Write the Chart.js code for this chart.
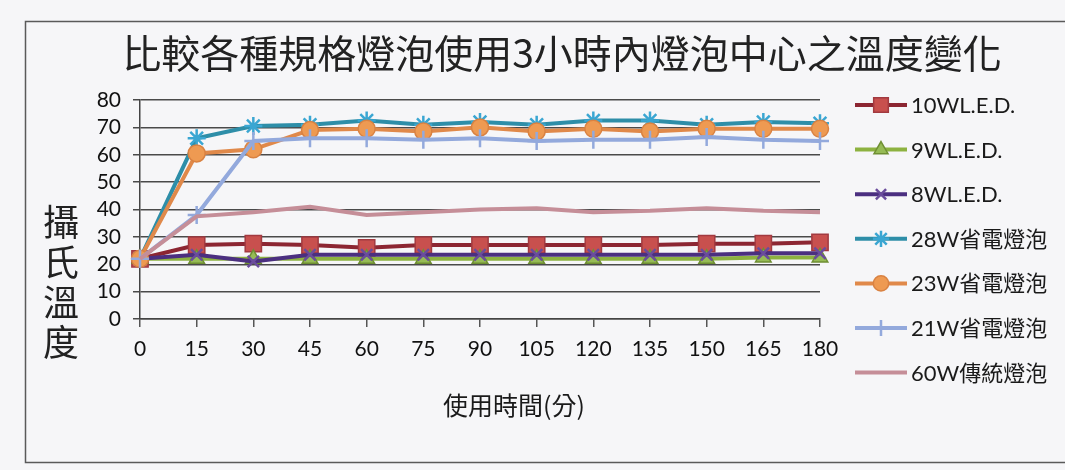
<!DOCTYPE html>
<html>
<head>
<meta charset="utf-8">
<script src="https://cdn.jsdelivr.net/npm/chart.js@4.4.1/dist/chart.umd.min.js"></script>
<style>
  html, body { margin: 0; padding: 0; background: #f6f6f8; }
  canvas { display: block; }
</style>
</head>
<body>
<canvas id="c" width="1065" height="470"></canvas>
<script>
// Time since switch-on (minutes)
const minutes = ['0', '15', '30', '45', '60', '75', '90', '105', '120', '135', '150', '165', '180'];

// Bulb-centre temperature (°C) per bulb type
const led10W  = [22, 27, 27.5, 27, 26, 27, 27, 27, 27, 27, 27.5, 27.5, 28];
const led9W   = [22, 22, 22, 22, 22, 22, 22, 22, 22, 22, 22, 22.5, 22.5];
const led8W   = [22, 23.5, 21, 23.5, 23.5, 23.5, 23.5, 23.5, 23.5, 23.5, 23.5, 24, 24];
const cfl28W  = [22, 66, 70.5, 71, 72.5, 71, 72, 71, 72.5, 72.5, 71, 72, 71.5];
const cfl23W  = [22, 60.5, 62, 69, 69.5, 68.5, 70, 68.5, 69.5, 68.5, 69.5, 69.5, 69.5];
const cfl21W  = [22, 38, 65, 66, 66, 65.5, 66, 65, 65.5, 65.5, 66.5, 65.5, 65];
const inc60W  = [22, 37.5, 39, 41, 38, 39, 40, 40.5, 39, 39.5, 40.5, 39.5, 39];

const seriesNames = ['10WL.E.D.', '9WL.E.D.', '8WL.E.D.', '28W省電燈泡', '23W省電燈泡', '21W省電燈泡', '60W傳統燈泡'];

// Axis range and tick step
const yMin = 0;
const yMax = 80;
const yStep = 10;

const chartTitle = '比較各種規格燈泡使用3小時內燈泡中心之溫度變化';
const yTitleChars = ['攝', '氏', '溫', '度'];
const xTitle = '使用時間(分)';

const latin = 'Lato, "Noto Sans CJK TC", sans-serif';
const cjk = '"Noto Sans CJK TC", Lato, sans-serif';

function series(label, data, style) {
  return Object.assign({
    label: label,
    data: data,
    borderWidth: 4,
    tension: 0,
    fill: false
  }, style);
}

const datasets = [
  series(seriesNames[0], led10W, {
    borderColor: '#8c2632', pointStyle: 'rect', pointRadius: 11.5,
    pointBackgroundColor: '#c8504e', pointBorderColor: '#a23a40', pointBorderWidth: 1.5, order: 7
  }),
  series(seriesNames[1], led9W, {
    borderColor: '#8db240', pointStyle: 'triangle', pointRadius: 9,
    pointBackgroundColor: '#96bb55', pointBorderColor: '#6f8f33', pointBorderWidth: 1.5, order: 6
  }),
  series(seriesNames[2], led8W, {
    borderColor: '#4b2f80', pointStyle: 'crossRot', pointRadius: 8,
    pointBackgroundColor: '#6a4c9c', pointBorderColor: '#6a4c9c', pointBorderWidth: 2.5, order: 5
  }),
  series(seriesNames[3], cfl28W, {
    borderColor: '#2e8ea8', pointStyle: 'star', pointRadius: 9,
    pointBackgroundColor: '#3aa6d2', pointBorderColor: '#3aa6d2', pointBorderWidth: 2.5, order: 4
  }),
  series(seriesNames[4], cfl23W, {
    borderColor: '#e0894a', pointStyle: 'circle', pointRadius: 8.5,
    pointBackgroundColor: '#ee9a52', pointBorderColor: '#d98242', pointBorderWidth: 1.5, order: 3
  }),
  series(seriesNames[5], cfl21W, {
    borderColor: '#93a9dc', pointStyle: 'cross', pointRadius: 9,
    pointBackgroundColor: '#93a9dc', pointBorderColor: '#93a9dc', pointBorderWidth: 2.5, order: 2
  }),
  series(seriesNames[6], inc60W, {
    borderColor: '#c58e98', pointRadius: 0, pointHoverRadius: 0, order: 1
  })
];

// Page background, outer frame, titles and legend
const decorations = {
  id: 'decorations',
  beforeDraw(chart) {
    const ctx = chart.ctx;
    ctx.save();
    ctx.fillStyle = '#f6f6f8';
    ctx.fillRect(0, 0, chart.width, chart.height);
    ctx.strokeStyle = '#5a5a5a';
    ctx.lineWidth = 1.5;
    ctx.strokeRect(25.5, 21.5, chart.width + 10, 441);
    ctx.restore();
  },
  afterDraw(chart) {
    const ctx = chart.ctx;
    ctx.save();

    // Chart title
    ctx.fillStyle = '#222';
    ctx.textAlign = 'center';
    ctx.textBaseline = 'middle';
    ctx.font = '39px ' + cjk;
    ctx.fillText(chartTitle, 562, 53);

    // Y-axis title, one character per line
    ctx.font = '36px ' + cjk;
    yTitleChars.forEach((ch, i) => ctx.fillText(ch, 61, 222 + i * 40));

    // X-axis title
    ctx.fillStyle = '#1a1a1a';
    ctx.font = '25px ' + cjk;
    ctx.fillText(xTitle, 514, 405);

    // Legend: line sample with marker, then label
    const x0 = 855, x1 = 907, tx = 911;
    chart.data.datasets.forEach((ds, i) => {
      const y = 105 + i * 44.6;
      ctx.strokeStyle = ds.borderColor;
      ctx.lineWidth = ds.borderWidth;
      ctx.beginPath();
      ctx.moveTo(x0, y);
      ctx.lineTo(x1, y);
      ctx.stroke();
      if (ds.pointRadius > 0 && Chart.helpers && Chart.helpers.drawPoint) {
        ctx.fillStyle = ds.pointBackgroundColor;
        ctx.strokeStyle = ds.pointBorderColor;
        ctx.lineWidth = ds.pointBorderWidth;
        Chart.helpers.drawPoint(ctx, {
          pointStyle: ds.pointStyle,
          radius: ds.pointRadius * 0.9,
          rotation: 0,
          borderWidth: ds.pointBorderWidth
        }, (x0 + x1) / 2, y);
      }
      ctx.fillStyle = '#1a1a1a';
      ctx.textAlign = 'left';
      ctx.font = '22px ' + latin;
      ctx.fillText(ds.label, tx, y + 1);
    });

    ctx.restore();
  }
};

new Chart(document.getElementById('c'), {
  type: 'line',
  data: { labels: minutes, datasets: datasets },
  options: {
    responsive: false,
    animation: false,
    events: [],
    layout: { padding: { left: 25, right: 245, top: 100, bottom: 0 } },
    plugins: {
      legend: { display: false },
      title: { display: false },
      tooltip: { enabled: false }
    },
    scales: {
      x: {
        type: 'category',
        offset: false,
        afterFit(scale) { scale.height = 151; },
        grid: { drawOnChartArea: false, drawTicks: true, tickLength: 8, color: '#555', lineWidth: 1.5 },
        border: { display: true, color: '#444', width: 1.5 },
        ticks: { color: '#111', font: { family: latin, size: 21 }, padding: 10, maxRotation: 0, autoSkip: false }
      },
      y: {
        min: yMin,
        max: yMax,
        afterFit(scale) { scale.width = 115; },
        grid: { color: '#4a4a4a', lineWidth: 1.5, tickLength: 7, drawTicks: true },
        border: { display: true, color: '#444', width: 1.5 },
        ticks: {
          stepSize: yStep,
          count: 9,
          autoSkip: false,
          maxTicksLimit: 20,
          color: '#111',
          font: { family: latin, size: 21, lineHeight: 1 },
          padding: 12
        }
      }
    }
  },
  plugins: [decorations]
});
</script>
</body>
</html>
